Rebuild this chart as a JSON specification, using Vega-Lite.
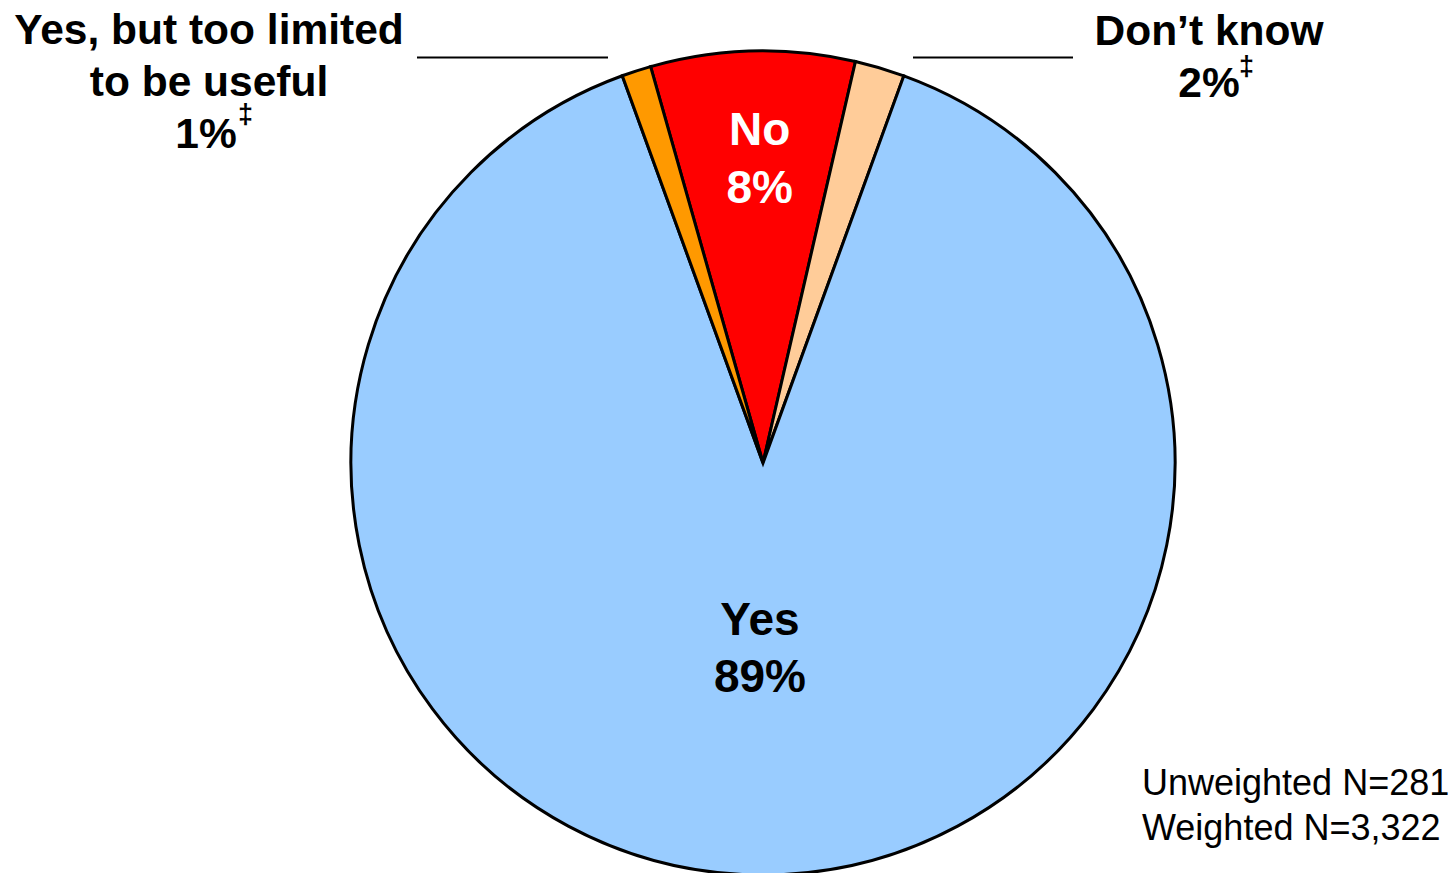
{
  "$schema": "https://vega.github.io/schema/vega-lite/v6.json",
  "width": 1386,
  "height": 820,
  "autosize": {"type": "none"},
  "padding": {"left": 70, "top": 53, "right": 0, "bottom": 0},
  "background": "white",
  "config": {"view": {"stroke": null}, "font": "Liberation Sans"},
  "data": {
    "values": [
      {"cat": "No", "pct": 8.0, "ord": 1, "label": "No\n8%", "pctLabel": "8%"},
      {"cat": "Don't know", "pct": 1.95, "ord": 2, "label": "Don’t know", "pctLabel": "2%"},
      {"cat": "Yes", "pct": 88.9, "ord": 3, "label": "Yes\n89%", "pctLabel": "89%"},
      {"cat": "Yes, but too limited to be useful", "pct": 1.15, "ord": 4, "label": "Yes, but too limited\nto be useful", "pctLabel": "1%"}
    ]
  },
  "encoding": {
    "theta": {"field": "pct", "type": "quantitative", "stack": true, "scale": {"range": [-0.2763, 6.0069]}},
    "order": {"field": "ord", "type": "quantitative"}
  },
  "layer": [
    {
      "mark": {"type": "arc", "outerRadius": 412, "stroke": "black", "strokeWidth": 3},
      "encoding": {
        "color": {
          "field": "cat",
          "type": "nominal",
          "legend": null,
          "scale": {
            "domain": ["No", "Don't know", "Yes", "Yes, but too limited to be useful"],
            "range": ["#FF0000", "#FFCC99", "#99CCFF", "#FF9900"]
          }
        }
      }
    },
    {
      "mark": {"type": "text", "radius": 332, "dx": 5, "fontSize": 46, "fontWeight": "bold", "fill": "white", "align": "center", "baseline": "middle", "lineBreak": "\n", "lineHeight": 58},
      "encoding": {
        "text": {"condition": {"test": "datum.cat === 'No'", "field": "label"}, "value": ""}
      }
    },
    {
      "mark": {"type": "text", "radius": 158, "dx": -3, "fontSize": 46, "fontWeight": "bold", "fill": "black", "align": "center", "baseline": "middle", "lineBreak": "\n", "lineHeight": 57},
      "encoding": {
        "text": {"condition": {"test": "datum.cat === 'Yes'", "field": "label"}, "value": ""}
      }
    },
    {
      "transform": [{"filter": "datum.cat === 'Yes, but too limited to be useful'"}],
      "mark": {"type": "text", "dx": -554, "dy": -419, "fontSize": 42.5, "fontWeight": "bold", "fill": "black", "align": "center", "baseline": "alphabetic", "lineBreak": "\n", "lineHeight": 52},
      "encoding": {"text": {"field": "label"}, "theta": null, "order": null}
    },
    {
      "transform": [{"filter": "datum.cat === 'Yes, but too limited to be useful'"}],
      "mark": {"type": "text", "dx": -557, "dy": -315, "fontSize": 42.5, "fontWeight": "bold", "fill": "black", "align": "center", "baseline": "alphabetic"},
      "encoding": {"text": {"field": "pctLabel"}, "theta": null, "order": null}
    },
    {
      "transform": [{"filter": "datum.cat === 'Don\\'t know'"}],
      "mark": {"type": "text", "dx": 446, "dy": -418, "fontSize": 42.5, "fontWeight": "bold", "fill": "black", "align": "center", "baseline": "alphabetic"},
      "encoding": {"text": {"field": "label"}, "theta": null, "order": null}
    },
    {
      "transform": [{"filter": "datum.cat === 'Don\\'t know'"}],
      "mark": {"type": "text", "dx": 446, "dy": -366, "fontSize": 42.5, "fontWeight": "bold", "fill": "black", "align": "center", "baseline": "alphabetic"},
      "encoding": {"text": {"field": "pctLabel"}, "theta": null, "order": null}
    },
    {
      "transform": [{"filter": "datum.cat === 'Yes, but too limited to be useful'"}],
      "mark": {"type": "text", "dx": -525, "dy": -340, "fontSize": 27, "fontWeight": "bold", "fill": "black", "align": "left", "baseline": "alphabetic", "text": "‡"},
      "encoding": {"theta": null, "order": null}
    },
    {
      "transform": [{"filter": "datum.cat === 'Don\\'t know'"}],
      "mark": {"type": "text", "dx": 476, "dy": -388, "fontSize": 27, "fontWeight": "bold", "fill": "black", "align": "left", "baseline": "alphabetic", "text": "‡"},
      "encoding": {"theta": null, "order": null}
    },
    {
      "transform": [{"filter": "datum.cat === 'Yes, but too limited to be useful'"}],
      "mark": {"type": "rule", "stroke": "black", "strokeWidth": 2},
      "encoding": {"x": {"value": 347}, "x2": {"value": 538}, "y": {"value": 4.5}, "theta": null, "order": null}
    },
    {
      "transform": [{"filter": "datum.cat === 'Don\\'t know'"}],
      "mark": {"type": "rule", "stroke": "black", "strokeWidth": 2},
      "encoding": {"x": {"value": 843}, "x2": {"value": 1003}, "y": {"value": 4.5}, "theta": null, "order": null}
    },
    {
      "data": {"values": [{"note": "Unweighted N=281\nWeighted N=3,322"}]},
      "mark": {"type": "text", "dx": 379, "dy": 332, "fontSize": 36, "fill": "black", "align": "left", "baseline": "alphabetic", "lineBreak": "\n", "lineHeight": 45},
      "encoding": {"text": {"field": "note"}, "theta": null, "order": null}
    }
  ]
}
